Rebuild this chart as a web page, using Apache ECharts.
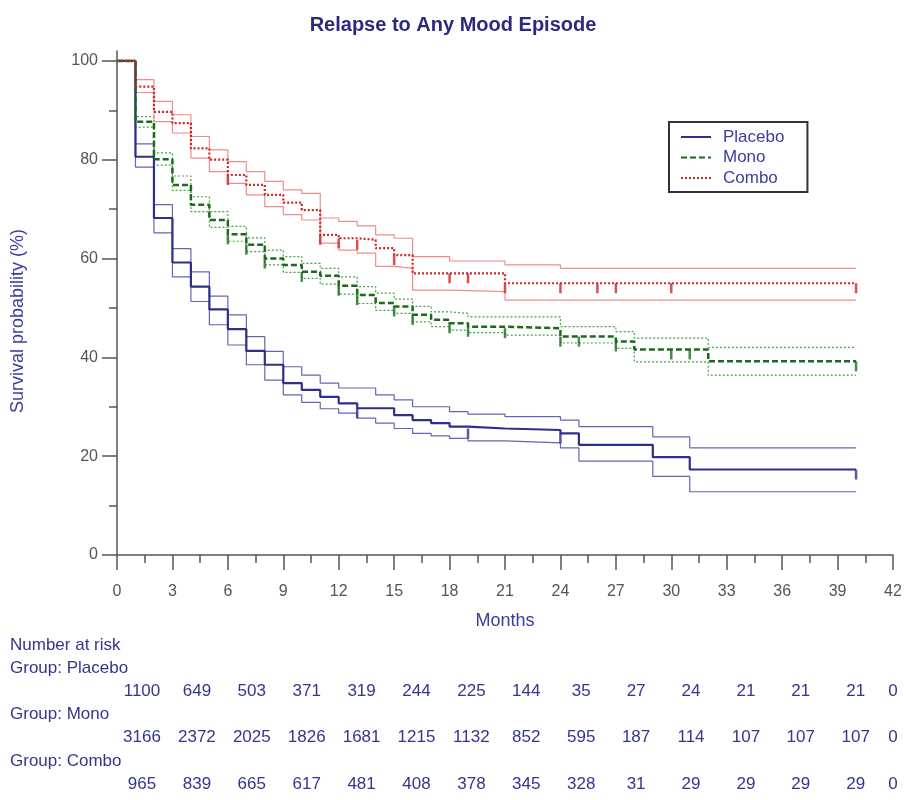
<!DOCTYPE html>
<html><head><meta charset="utf-8">
<script src="https://cdn.jsdelivr.net/npm/echarts@6.0.0/dist/echarts.min.js"></script>
<style>html,body{margin:0;padding:0;background:#fff}#c{width:906px;height:800px}</style>
</head><body><div id="c"></div>
<script>
// ---- data ----
const placeboTime  = [0,1,2,3,4,5,6,7,8,9,10,11,12,13,14,15,16,17,18,19,21,24,25,29,31,40];
const placeboSurv  = [100,80.6,68.2,59.2,54.3,49.7,45.7,41.3,38.5,34.8,33.4,32.0,30.7,29.7,29.7,28.3,27.3,26.7,26.0,25.6,25.3,24.6,22.3,19.8,17.3,17.3];
const placeboUpper = [100,83.2,70.9,62.0,57.3,52.4,48.6,44.2,41.2,38.1,36.4,34.8,33.8,33.8,32.4,31.4,30.0,30.0,29.0,28.5,28.0,27.3,26.0,23.9,21.7,21.7];
const placeboLower = [100,78.5,65.2,56.3,51.3,46.6,42.5,38.5,35.4,32.4,30.9,29.6,28.7,27.7,26.7,25.6,24.6,24.1,23.6,23.1,22.7,21.7,19.0,15.9,12.8,12.8];
const placeboCensor = [13,19,24,40];

const monoTime  = [0,1,2,3,4,5,6,7,8,9,10,11,12,13,14,15,16,17,18,19,21,24,27,28,32,40];
const monoSurv  = [100,87.7,80.1,74.9,70.9,67.8,64.9,62.8,60.0,58.7,57.3,56.5,54.5,52.6,51.0,50.3,48.6,47.6,46.9,46.2,45.9,44.2,43.2,41.6,39.2,39.2];
const monoUpper = [100,88.7,81.4,76.7,72.5,69.5,66.5,64.2,61.7,60.4,59.0,58.0,56.3,54.3,53.0,51.8,50.3,49.2,48.9,48.2,48.2,46.2,45.2,43.9,42.0,42.0];
const monoLower = [100,86.6,78.9,73.8,69.5,66.3,63.5,61.4,58.7,57.2,56.0,54.8,52.8,50.9,49.5,48.9,47.2,46.2,45.5,45.0,44.5,42.9,41.8,39.1,36.4,36.4];
const monoCensor = [6,7,8,10,12,13,15,16,18,19,21,24,25,27,30,31,40];

const comboTime  = [0,1,2,3,4,5,6,7,8,9,10,11,12,13,14,15,16,18,21,24,40];
const comboSurv  = [100,94.8,89.7,87.4,82.3,80.0,76.9,74.9,72.9,71.3,69.8,64.8,64.1,63.8,62.1,60.7,57.0,57.0,55.0,55.0,55.0];
const comboUpper = [100,96.2,91.8,89.1,84.7,82.0,79.6,77.6,75.6,73.9,73.2,68.2,67.5,66.6,64.8,64.1,60.4,59.5,58.7,58.0,58.0];
const comboLower = [100,93.6,87.7,85.4,80.3,77.6,75.2,72.9,70.5,68.9,67.8,63.1,61.7,61.1,58.4,58.0,53.6,53.3,51.6,51.6,51.6];
const comboCensor = [6,11,12,13,15,18,19,21,24,26,27,30,40];

const xTicks = [0,3,6,9,12,15,18,21,24,27,30,33,36,39,42];
const yTicks = [0,20,40,60,80,100];
const yMinorTicks = [10,30,50,70,90];

const riskGroups = ['Placebo','Mono','Combo'];
const riskPlacebo = [1100,649,503,371,319,244,225,144,35,27,24,21,21,21,0];
const riskMono    = [3166,2372,2025,1826,1681,1215,1132,852,595,187,114,107,107,107,0];
const riskCombo   = [965,839,665,617,481,408,378,345,328,31,29,29,29,29,0];

// ---- helpers ----
const pts = (t, v) => t.map((x, i) => [x, v[i]]);
function stepAt(t, times, vals) { let v = vals[0]; for (let i = 0; i < times.length; i++) if (times[i] <= t) v = vals[i]; return v; }
const censorPts = (c, t, v) => c.map(x => [x, stepAt(x, t, v)]);

const FONT = 'Liberation Sans, Arial, sans-serif';
const NAVY = '#35358f';

const C = {
  placebo: {main: '#2e2e8c', ci: '#6464b4'},
  mono: {main: '#1b6b1b', ci: '#46a046'},
  combo: {main: '#cc2626', ci: '#f08c8c'}
};

function ciSeries(name, t, v, color, type) {
  return {name, type: 'line', step: 'end', symbol: 'none', data: pts(t, v), silent: true,
    lineStyle: {color, width: 1.2, type}, z: 2};
}
function mainSeries(name, t, v, color, type, width) {
  return {name, type: 'line', step: 'end', symbol: 'none', data: pts(t, v),
    lineStyle: {color, width, type}, itemStyle: {color}, z: 4};
}
function censorSeries(name, c, t, v, color) {
  return {name, type: 'scatter', data: censorPts(c, t, v), symbol: 'rect', symbolSize: [2.5, 10],
    symbolOffset: [0, 5], itemStyle: {color}, z: 5, silent: true};
}

// table graphics
const graphics = [];
function txt(x, y, s, align) {
  graphics.push({type: 'text', x, y, style: {text: String(s), font: '17px ' + FONT, fill: NAVY, textAlign: align || 'left', textVerticalAlign: 'middle'}});
}
txt(10, 645, 'Number at risk');
const riskRows = [riskPlacebo, riskMono, riskCombo];
riskGroups.forEach((g, r) => {
  const y0 = 668 + r * 46.5;
  txt(10, y0, 'Group: ' + g);
  riskRows[r].forEach((n, i) => txt(Math.min(142 + i * 54.9, 893), y0 + 23, n, 'center'));
});

const chart = echarts.init(document.getElementById('c'));
chart.setOption({
  animation: false,
  backgroundColor: '#fff',
  title: {text: 'Relapse to Any Mood Episode', left: 'center', top: 10,
    textStyle: {fontSize: 20, fontWeight: 'bold', color: '#2a2a80', fontFamily: FONT}},
  legend: {data: ['Placebo', 'Mono', 'Combo'], orient: 'vertical', left: 669, top: 122,
    itemWidth: 30, itemHeight: 12, itemGap: 2.5, padding: [6, 23, 5, 11],
    itemStyle: {opacity: 0},
    borderColor: '#333', borderWidth: 2,
    textStyle: {fontSize: 17, lineHeight: 18, color: '#3c3ca0', fontFamily: FONT, padding: [0, 0, 0, 7]}},
  grid: {left: 117, right: 13, top: 51, bottom: 245, containLabel: false},
  xAxis: {type: 'value', min: 0, max: 42, interval: 3,
    axisLine: {show: true, onZero: false, lineStyle: {color: '#555', width: 1.5}},
    axisTick: {show: true, length: 15, lineStyle: {color: '#555', width: 1.5}},
    minorTick: {show: true, splitNumber: 2, length: 8, lineStyle: {color: '#555', width: 1.5}},
    splitLine: {show: false}, minorSplitLine: {show: false},
    axisLabel: {fontSize: 16, color: '#555', fontFamily: FONT, margin: 29, customValues: xTicks},
    name: 'Months', nameLocation: 'middle', nameGap: 57,
    nameTextStyle: {fontSize: 18, color: '#3c3ca0', fontFamily: FONT}},
  yAxis: [{type: 'value', min: 0, max: 102,
    axisLine: {show: true, lineStyle: {color: '#555', width: 1.5}},
    axisTick: {show: true, length: 15, customValues: yTicks, lineStyle: {color: '#555', width: 1.5}},
    axisLabel: {fontSize: 16, color: '#555', fontFamily: FONT, margin: 19, customValues: yTicks},
    splitLine: {show: false},
    name: 'Survival probability (%)', nameLocation: 'middle', nameGap: 90,
    nameTextStyle: {fontSize: 18, color: '#3c3ca0', fontFamily: FONT, padding: [0, 36, 0, 0]}},
   {type: 'value', min: 0, max: 102, position: 'left',
    axisLine: {show: false}, axisLabel: {show: false}, splitLine: {show: false},
    axisTick: {show: true, length: 8, customValues: yMinorTicks, lineStyle: {color: '#555', width: 1.5}}}],
  series: [
    ciSeries('Placebo CI upper', placeboTime, placeboUpper, C.placebo.ci, 'solid'),
    ciSeries('Placebo CI lower', placeboTime, placeboLower, C.placebo.ci, 'solid'),
    ciSeries('Mono CI upper', monoTime, monoUpper, C.mono.ci, [2, 2]),
    ciSeries('Mono CI lower', monoTime, monoLower, C.mono.ci, [2, 2]),
    ciSeries('Combo CI upper', comboTime, comboUpper, C.combo.ci, 'solid'),
    ciSeries('Combo CI lower', comboTime, comboLower, C.combo.ci, 'solid'),
    mainSeries('Placebo', placeboTime, placeboSurv, C.placebo.main, 'solid', 2.2),
    mainSeries('Mono', monoTime, monoSurv, C.mono.main, [6, 3], 2.5),
    mainSeries('Combo', comboTime, comboSurv, C.combo.main, [2, 2], 2.2),
    censorSeries('Placebo censored', placeboCensor, placeboTime, placeboSurv, C.placebo.main),
    censorSeries('Mono censored', monoCensor, monoTime, monoSurv, C.mono.main),
    censorSeries('Combo censored', comboCensor, comboTime, comboSurv, C.combo.main)
  ],
  graphic: graphics
});
</script></body></html>
